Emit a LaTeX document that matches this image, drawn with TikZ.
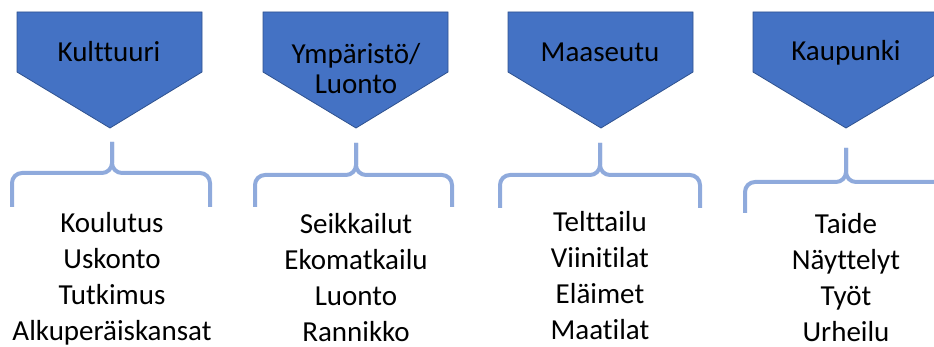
\documentclass[tikz,border=0pt]{standalone}
\usepackage{fontspec}
\setmainfont{Carlito}[Ligatures=NoCommon]
\definecolor{headblue}{HTML}{4472C4}
\definecolor{headline}{HTML}{2F528F}
\definecolor{bracelight}{HTML}{8FAADC}
\tikzstyle{arrowbox}=[fill=headblue,draw=headline,line width=0.8pt]
\tikzstyle{brace}=[draw=bracelight,line width=4pt,rounded corners=10pt]
\tikzstyle{head}=[font=\fontsize{29}{30}\selectfont,align=center,inner sep=0pt]
\tikzstyle{items}=[font=\fontsize{29}{36}\selectfont,align=center,inner sep=0pt,anchor=north]

\begin{document}
\begin{tikzpicture}[x=1pt,y=-1pt]
\useasboundingbox (0,0) rectangle (934,347);
\clip (0,0) rectangle (934,347);
% Kulttuuri
\draw [arrowbox] (17,12) -- (202,12) -- (202,72) -- (110,128) -- (17,72) -- cycle;
\node [head] (kult) at (109,52) {Kulttuuri};
\draw [brace] (12,207) -- (12,173) -- (112,173) -- (112,142);
\draw [brace] (210,207) -- (210,173) -- (112,173) -- (112,142);
\node [items] (kultlist) at (112,212) {Koulutus\\Uskonto\\Tutkimus\\Alkuperäiskansat};
% Ympäristö/Luonto
\draw [arrowbox] (263,12) -- (448,12) -- (448,72) -- (356,128) -- (263,72) -- cycle;
\node [head] (ymp) at (356,69) {Ympäristö/\\Luonto};
\draw [brace] (255,207) -- (255,175) -- (356,175) -- (356,143);
\draw [brace] (452,207) -- (452,175) -- (356,175) -- (356,143);
\node [items] (ymplist) at (356,213) {Seikkailut\\Ekomatkailu\\Luonto\\Rannikko};
% Maaseutu
\draw [arrowbox] (508,12) -- (693,12) -- (693,72) -- (601,128) -- (508,72) -- cycle;
\node [head] (maa) at (600,52) {Maaseutu};
\draw [brace] (500,208) -- (500,175) -- (600,175) -- (600,143);
\draw [brace] (700,208) -- (700,175) -- (600,175) -- (600,143);
\node [items] (maalist) at (600,211) {Telttailu\\Viinitilat\\Eläimet\\Maatilat};
% Kaupunki
\draw [arrowbox] (753,12) -- (940,12) -- (940,72) -- (846,128) -- (753,72) -- cycle;
\node [head] (kaup) at (846,53) {Kaupunki};
\draw [brace] (745,213) -- (745,182) -- (846,182) -- (846,148);
\draw [brace] (945,213) -- (945,182) -- (846,182) -- (846,148);
\node [items] (kauplist) at (846,213) {Taide\\Näyttelyt\\Työt\\Urheilu};
\end{tikzpicture}
\end{document}
